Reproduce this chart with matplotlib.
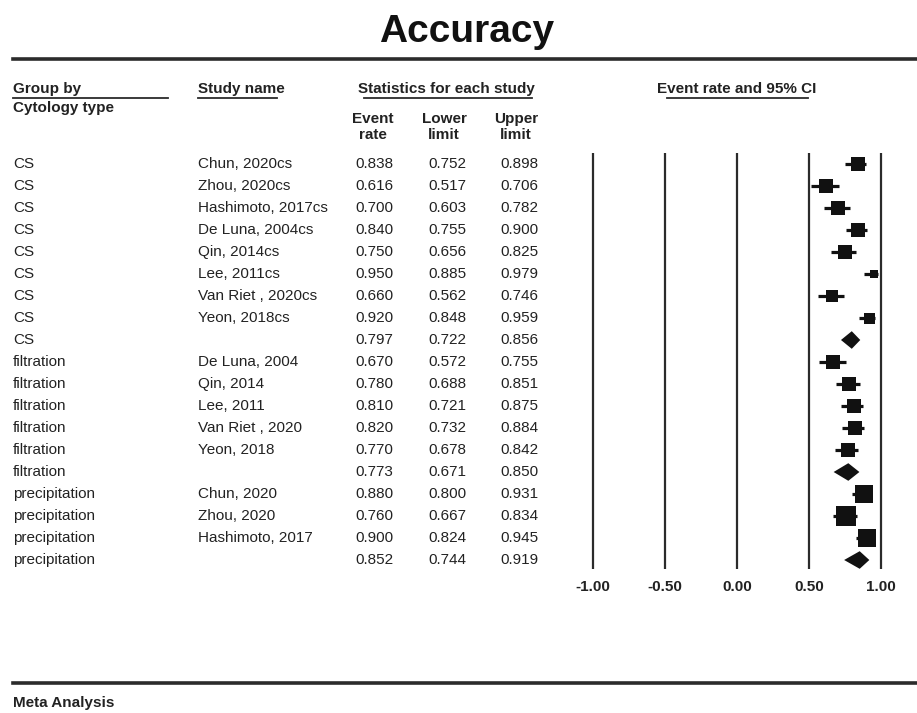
import matplotlib
matplotlib.use("Agg")
import matplotlib.pyplot as plt
from matplotlib import transforms
from matplotlib.lines import Line2D
from matplotlib.patches import Polygon
import numpy as np

plt.rcParams["font.family"] = ["Liberation Sans", "DejaVu Sans"]

# ---------------------------------------------------------------- data
groups = ["CS"] * 9 + ["filtration"] * 6 + ["precipitation"] * 4
studies = [
    "Chun, 2020cs", "Zhou, 2020cs", "Hashimoto, 2017cs", "De Luna, 2004cs",
    "Qin, 2014cs", "Lee, 2011cs", "Van Riet , 2020cs", "Yeon, 2018cs", "",
    "De Luna, 2004", "Qin, 2014", "Lee, 2011", "Van Riet , 2020", "Yeon, 2018", "",
    "Chun, 2020", "Zhou, 2020", "Hashimoto, 2017", "",
]
event_rate = [0.838, 0.616, 0.700, 0.840, 0.750, 0.950, 0.660, 0.920, 0.797,
              0.670, 0.780, 0.810, 0.820, 0.770, 0.773,
              0.880, 0.760, 0.900, 0.852]
lower_limit = [0.752, 0.517, 0.603, 0.755, 0.656, 0.885, 0.562, 0.848, 0.722,
               0.572, 0.688, 0.721, 0.732, 0.678, 0.671,
               0.800, 0.667, 0.824, 0.744]
upper_limit = [0.898, 0.706, 0.782, 0.900, 0.825, 0.979, 0.746, 0.959, 0.856,
               0.755, 0.851, 0.875, 0.884, 0.842, 0.850,
               0.931, 0.834, 0.945, 0.919]
# relative study weights (0 marks a subgroup summary row)
weights = [1.44, 1.44, 1.44, 1.44, 1.44, 0.64, 1.21, 1.00, 0,
           1.69, 1.69, 1.69, 1.69, 1.69, 0,
           2.89, 3.24, 2.89, 0]
x_ticks = [-1.0, -0.5, 0.0, 0.5, 1.0]

# ---------------------------------------------------------------- layout
W, H = 917, 713
fig = plt.figure(figsize=(W / 100, H / 100), dpi=100)
fig.patch.set_facecolor("white")

def fx(px):
    return px / W

def fy(py):
    return 1 - py / H

TXT = "#222222"
LINE = "#2b2b2b"

ROW0, ROWH = 164, 22          # first row centre and row pitch (px)
X0, XU = 737, 144             # zero position and pixels per unit
ax_l, ax_r, ax_t, ax_b = 560, 912, 140, 600
ax = fig.add_axes([fx(ax_l), fy(ax_b), (ax_r - ax_l) / W, (ax_b - ax_t) / H])
ax.set_xlim((ax_l - X0) / XU, (ax_r - X0) / XU)
ax.set_ylim((ax_b - ROW0) / ROWH, (ax_t - ROW0) / ROWH)
ax.axis("off")

n = len(event_rate)
rows = np.arange(n)

# reference lines and their labels
ax.vlines(x_ticks, -0.5, 18.4, color=LINE, lw=1.6)
for t in x_ticks:
    ax.text(t, (587 - ROW0) / ROWH, f"{t:.2f}", ha="center", va="center",
            fontsize=11, fontweight="bold", color=TXT)

# study boxes with CI whiskers, subgroup diamonds
for i in rows:
    est, lo, up, w = event_rate[i], lower_limit[i], upper_limit[i], weights[i]
    if w > 0:
        ax.hlines(i, lo, up, color="#111111", lw=2.3, zorder=3)
        side_px = 11 * np.sqrt(w)
        ax.plot(est, i, marker="s", markersize=side_px * 0.72,
                color="#111111", markeredgewidth=0, zorder=4, clip_on=False)
    else:
        hh = 0.40
        ax.add_patch(Polygon([(lo, i), (est, i - hh), (up, i), (est, i + hh)],
                             closed=True, facecolor="#111111", edgecolor="none",
                             zorder=4, clip_on=False))

# table text
trans = transforms.blended_transform_factory(fig.transFigure, ax.transData)
for i in rows:
    kw = dict(transform=trans, va="center", fontsize=11, color=TXT, clip_on=False)
    ax.text(fx(13), i, groups[i], ha="left", **kw)
    ax.text(fx(198), i, studies[i], ha="left", **kw)
    ax.text(fx(374), i, f"{event_rate[i]:.3f}", ha="center", **kw)
    ax.text(fx(447), i, f"{lower_limit[i]:.3f}", ha="center", **kw)
    ax.text(fx(519), i, f"{upper_limit[i]:.3f}", ha="center", **kw)

# title and rules
fig.text(fx(467), fy(42), "Accuracy", ha="center", va="baseline",
         fontsize=28, fontweight="bold", color="#111111")

def hline(x1, x2, y, lw):
    fig.add_artist(Line2D([fx(x1), fx(x2)], [fy(y), fy(y)],
                          transform=fig.transFigure, color=LINE, lw=lw))

hline(13, 917, 59, 2.6)
hline(13, 917, 683, 2.6)

hb = dict(fontsize=11, fontweight="bold", color=TXT, va="center")
fig.text(fx(13), fy(89), "Group by", ha="left", **hb)
fig.text(fx(13), fy(108), "Cytology type", ha="left", **hb)
fig.text(fx(198), fy(89), "Study name", ha="left", **hb)
fig.text(fx(446), fy(89), "Statistics for each study", ha="center", **hb)
fig.text(fx(737), fy(89), "Event rate and 95% CI", ha="center", **hb)
hline(13, 168, 98, 1.3)
hline(198, 277, 98, 1.3)
hline(364, 532, 98, 1.3)
hline(667, 808, 98, 1.3)

for xc, h in zip([373, 444, 516], ["Event\nrate", "Lower\nlimit", "Upper\nlimit"]):
    fig.text(fx(xc), fy(127), h, ha="center", va="center",
             linespacing=1.25, **{k: v for k, v in hb.items() if k != "va"})

fig.text(fx(13), fy(703), "Meta Analysis", ha="left", **hb)

fig.savefig("out.png", dpi=100, facecolor="white")
